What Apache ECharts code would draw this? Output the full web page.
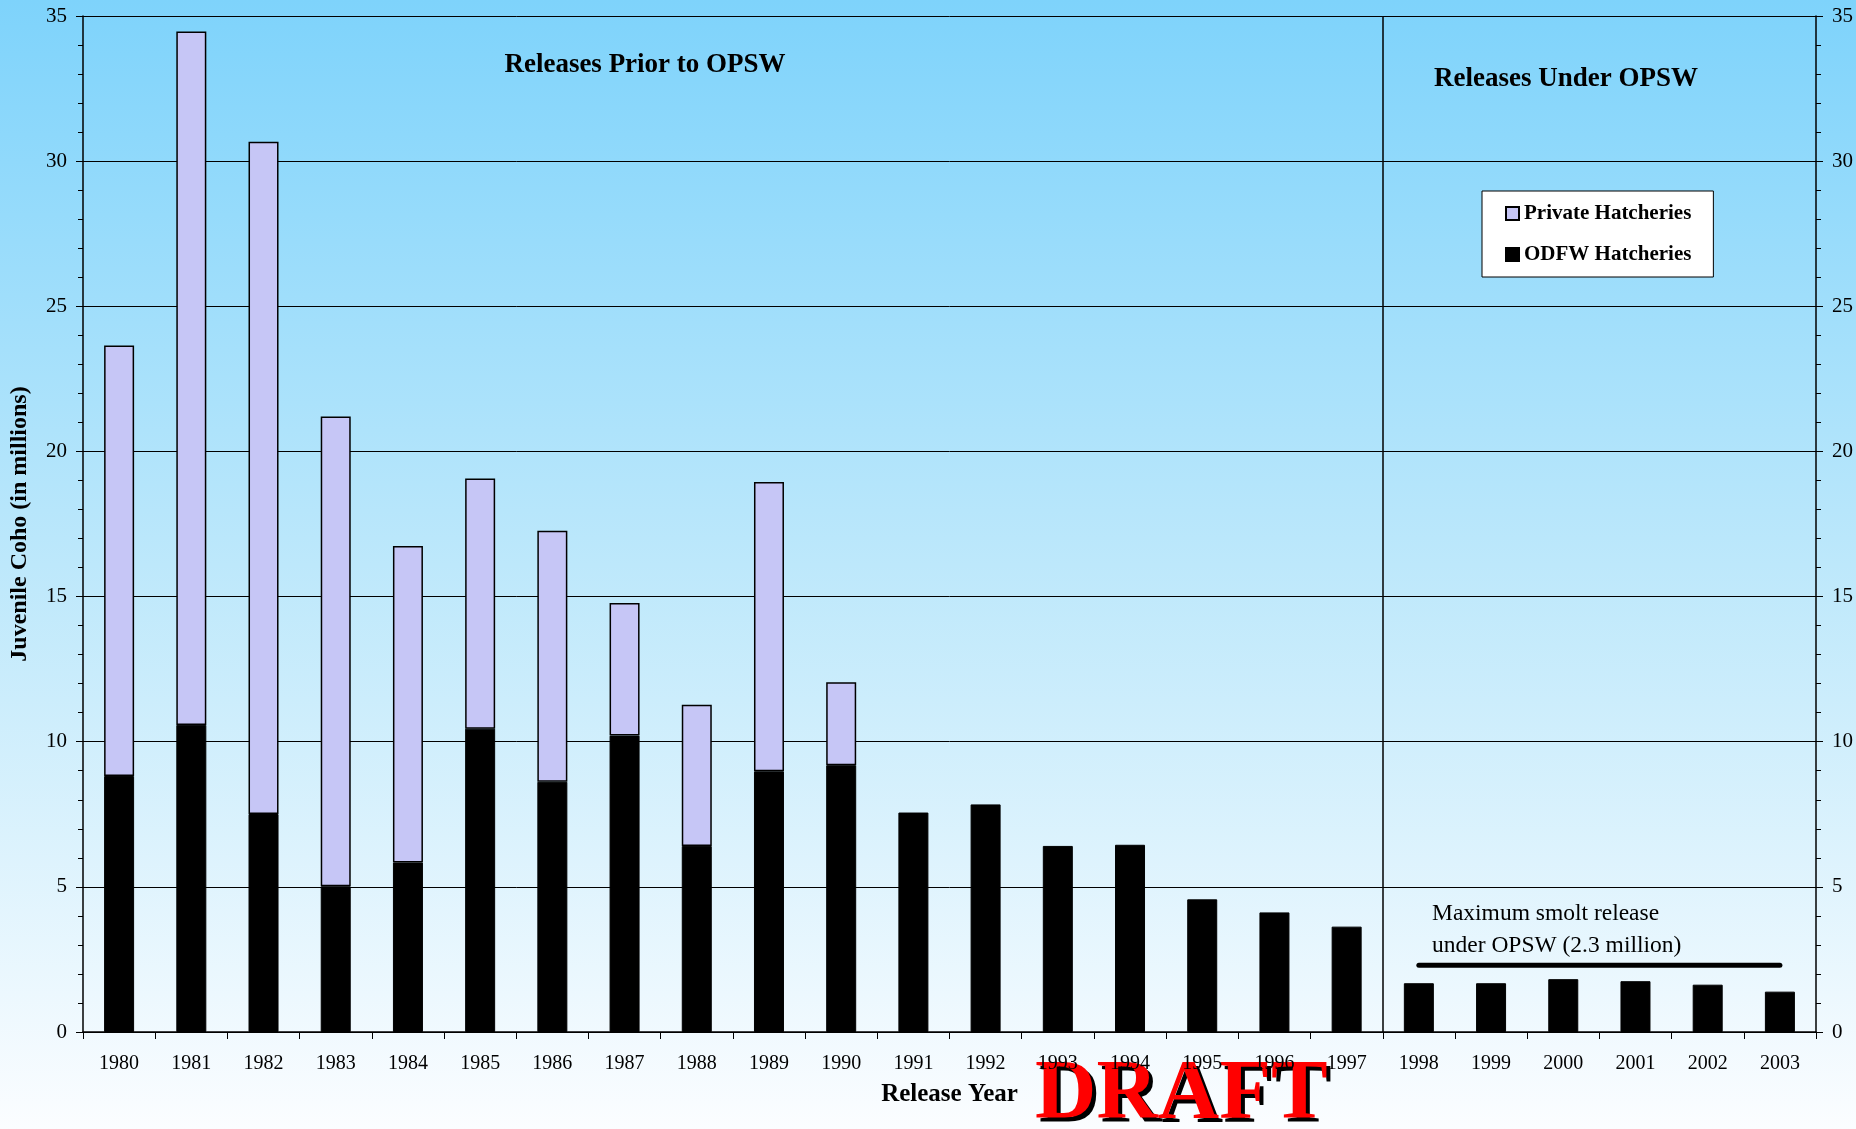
<!DOCTYPE html>
<html>
<head>
<meta charset="utf-8">
<script src="https://cdn.jsdelivr.net/npm/echarts@6/dist/echarts.min.js"></script>
<style>
  html, body { margin: 0; padding: 0; }
  #chart { width: 1856px; height: 1129px; }
</style>
</head>
<body>
<div id="chart"></div>
<script>
  // release years
  const years = ['1980', '1981', '1982', '1983', '1984', '1985', '1986', '1987', '1988', '1989', '1990', '1991',
    '1992', '1993', '1994', '1995', '1996', '1997', '1998', '1999', '2000', '2001', '2002', '2003'];
  // juvenile coho released, millions
  const odfwHatcheries = [8.82, 10.58, 7.51, 5.02, 5.84, 10.45, 8.62, 10.21, 6.41, 8.98, 9.19, 7.56,
    7.84, 6.41, 6.45, 4.57, 4.12, 3.63, 1.68, 1.68, 1.82, 1.75, 1.63, 1.39];
  const privateHatcheries = [14.83, 23.89, 23.16, 16.18, 10.90, 8.62, 8.65, 4.57, 4.86, 9.97, 2.86, 0,
    0, 0, 0, 0, 0, 0, 0, 0, 0, 0, 0, 0];
  // OPSW era starts at index 18 (1998)
  const opswStartIndex = 18;
  const maxSmoltRelease = 2.3;
  const yTicks = [0, 5, 10, 15, 20, 25, 30, 35];

  const serif = 'Liberation Serif';
  let chart = echarts.init(document.getElementById('chart'));

  let yAxisBase = function (pos) {
    return {
      type: 'value',
      position: pos,
      min: yTicks[0],
      max: yTicks[yTicks.length - 1],
      interval: yTicks[1] - yTicks[0],
      axisLine: { show: true, lineStyle: { color: '#000', width: 1.5 } },
      axisTick: { show: true, length: 7, lineStyle: { color: '#000' } },
      minorTick: { show: true, splitNumber: 5, length: 5, lineStyle: { color: '#000' } },
      axisLabel: { color: '#000', fontFamily: serif, fontSize: 21, margin: 16 },
      splitLine: { show: pos === 'left', lineStyle: { color: '#000', width: 1 } }
    };
  };

  let option = {
    backgroundColor: {
      type: 'linear', x: 0, y: 0, x2: 0, y2: 1,
      colorStops: [
        { offset: 0, color: '#7ed3fb' },
        { offset: 0.5, color: '#bde8fb' },
        { offset: 1, color: '#fbfdff' }
      ]
    },
    animation: false,
    grid: { left: 83, right: 40, top: 16, bottom: 97, containLabel: false, outerBoundsMode: 'none' },
    legend: {
      orient: 'vertical',
      left: 1482,
      top: 191,
      padding: [12, 22, 12, 23],
      icon: 'rect',
      itemWidth: 13,
      itemHeight: 13,
      itemGap: 20,
      backgroundColor: '#fff',
      borderColor: '#000',
      borderWidth: 1,
      selectedMode: false,
      textStyle: { color: '#000', fontFamily: serif, fontWeight: 'bold', fontSize: 21 },
      data: ['Private Hatcheries', 'ODFW Hatcheries']
    },
    xAxis: [
      {
        type: 'category',
        data: years,
        name: 'Release Year',
        nameLocation: 'middle',
        nameGap: 50,
        nameTextStyle: { color: '#000', fontFamily: serif, fontWeight: 'bold', fontSize: 25 },
        axisLine: { lineStyle: { color: '#000', width: 1.5 } },
        axisTick: { show: true, interval: 0, length: 7, lineStyle: { color: '#000' } },
        axisLabel: { color: '#000', fontFamily: serif, fontSize: 20, margin: 22, interval: 0 }
      },
      { type: 'value', min: 0, max: years.length, show: false }
    ],
    yAxis: [
      Object.assign(yAxisBase('left'), {
        name: 'Juvenile Coho (in millions)',
        nameLocation: 'middle',
        nameGap: 51,
        nameTextStyle: { color: '#000', fontFamily: serif, fontWeight: 'bold', fontSize: 24 }
      }),
      yAxisBase('right')
    ],
    series: [
      {
        name: 'ODFW Hatcheries',
        type: 'bar',
        stack: 'total',
        barWidth: 30,
        data: odfwHatcheries,
        itemStyle: { color: '#000', borderColor: '#000', borderWidth: 1 }
      },
      {
        name: 'Private Hatcheries',
        type: 'bar',
        stack: 'total',
        barWidth: 30,
        data: privateHatcheries.map(v => v === 0 ? null : v),
        itemStyle: { color: '#c6c6f6', borderColor: '#000', borderWidth: 1.5 }
      },
      {
        name: 'OPSW max',
        type: 'line',
        xAxisIndex: 1,
        yAxisIndex: 0,
        symbol: 'none',
        data: [[opswStartIndex + 0.5, maxSmoltRelease], [years.length - 0.5, maxSmoltRelease]],
        lineStyle: { color: '#000', width: 5, cap: 'round' },
        markLine: {
          silent: true,
          symbol: 'none',
          label: { show: false },
          lineStyle: { color: '#000', width: 1.5, type: 'solid' },
          data: [{ xAxis: opswStartIndex }]
        }
      }
    ],
    graphic: [
      {
        type: 'text', x: 645, y: 65,
        style: { text: 'Releases Prior to OPSW', fill: '#000', font: 'bold 27px "Liberation Serif"', align: 'center', verticalAlign: 'middle' }
      },
      {
        type: 'text', x: 1566, y: 79,
        style: { text: 'Releases Under OPSW', fill: '#000', font: 'bold 27px "Liberation Serif"', align: 'center', verticalAlign: 'middle' }
      },
      {
        type: 'text', x: 1432, y: 914,
        style: { text: 'Maximum smolt release', fill: '#000', font: '23.5px "Liberation Serif"', align: 'left', verticalAlign: 'middle' }
      },
      {
        type: 'text', x: 1432, y: 946,
        style: { text: 'under OPSW (2.3 million)', fill: '#000', font: '23.5px "Liberation Serif"', align: 'left', verticalAlign: 'middle' }
      },
      {
        type: 'text', x: 1039, y: 1100,
        style: { text: 'DRAFT', fill: '#000', font: 'bold 85px "Liberation Serif"', align: 'left', verticalAlign: 'middle' }
      },
      {
        type: 'text', x: 1035, y: 1096,
        style: { text: 'DRAFT', fill: '#ff0000', font: 'bold 85px "Liberation Serif"', align: 'left', verticalAlign: 'middle' }
      }
    ]
  };

  chart.setOption(option);
</script>
</body>
</html>
